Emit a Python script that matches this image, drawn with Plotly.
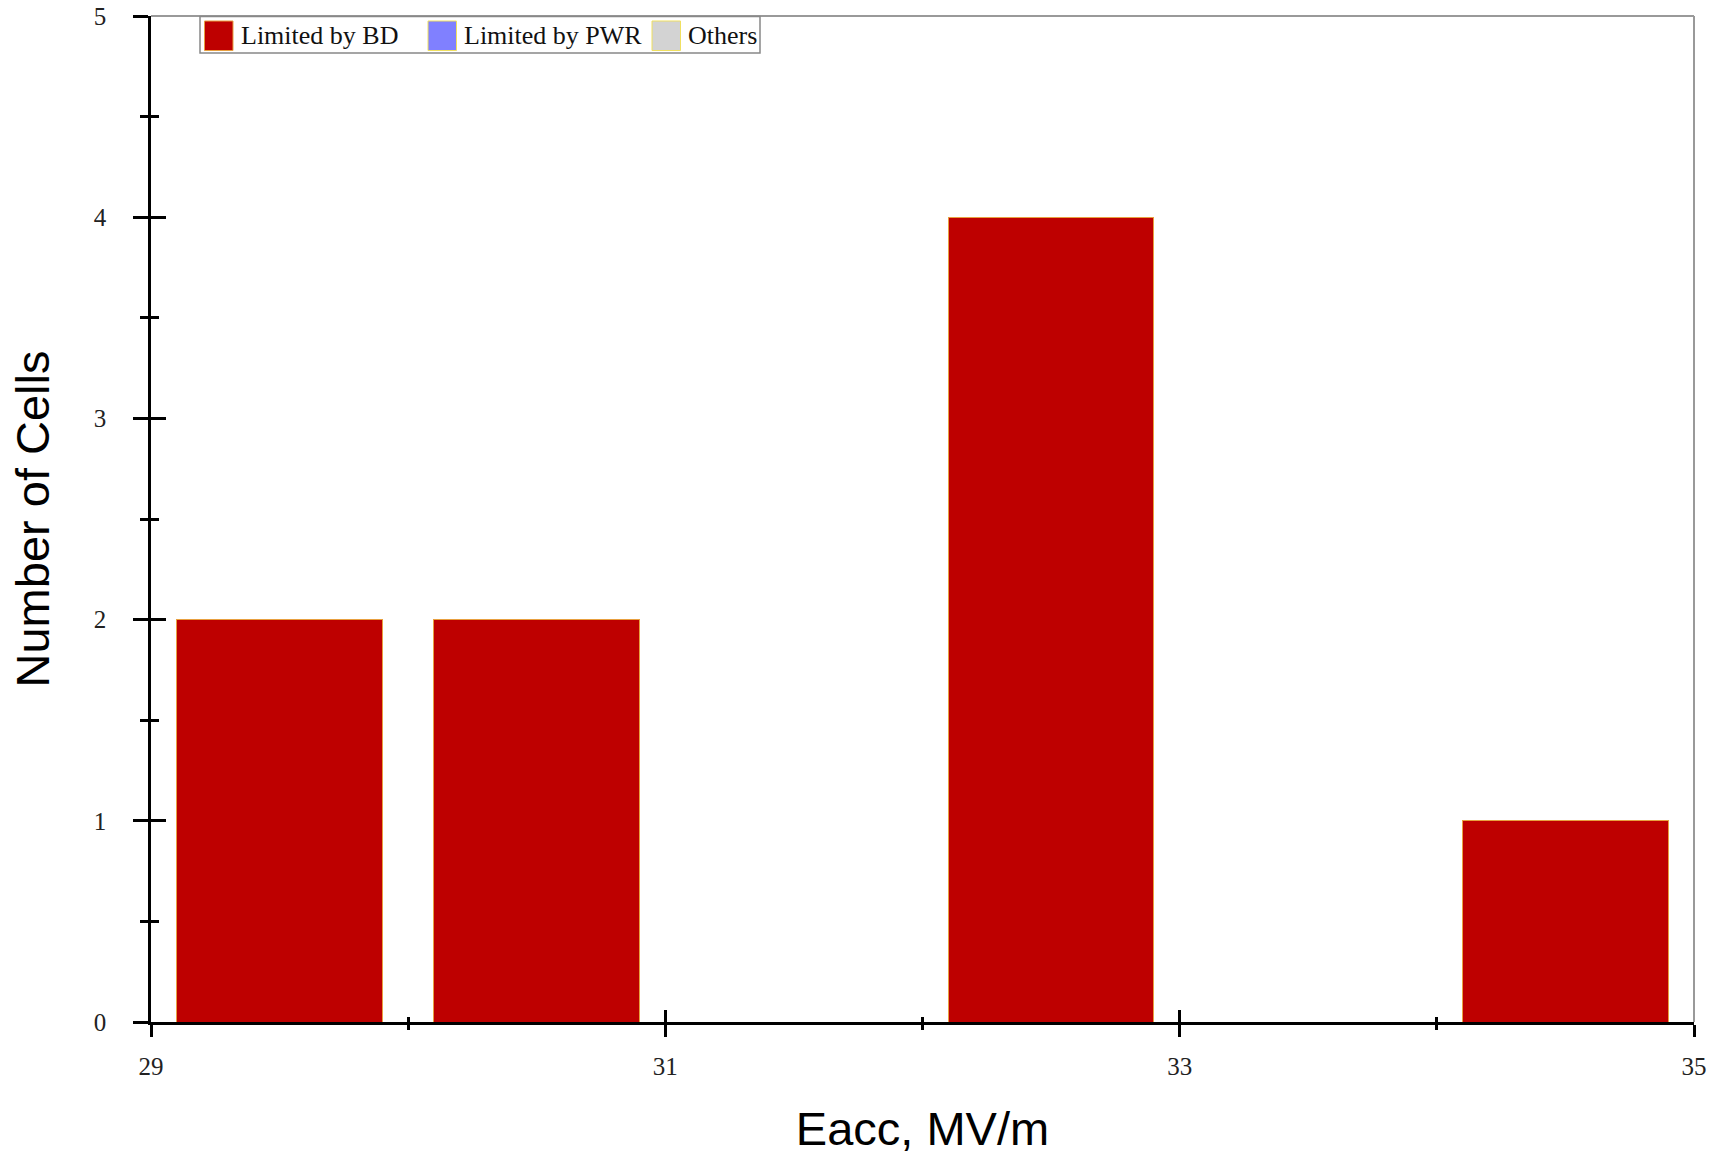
import plotly.graph_objects as go

# ---- data ----
eacc_bin_centers = [29.5, 30.5, 31.5, 32.5, 33.5, 34.5]
limited_by_bd = [2, 2, 0, 4, 0, 1]
limited_by_pwr = [0, 0, 0, 0, 0, 0]
others = [0, 0, 0, 0, 0, 0]
series_names = ["Limited by BD", "Limited by PWR", "Others"]
series_colors = ["#BE0000", "#8080FF", "#D3D3D3"]
x_tick_vals = [29, 31, 33, 35]
y_tick_vals = [0, 1, 2, 3, 4, 5]

W, H = 1724, 1155
L, R, T, B = 151, 30, 16, 133
PW, PH = W - L - R, H - T - B

def px_x(p):
    return (p - L) / PW

def px_y(p):
    return (H - B - p) / PH

fig = go.Figure()
series_axes = [("x", "y"), ("x", "y"), ("x2", "y2")]
for name, vals, col, (xa, ya) in zip(series_names, [limited_by_bd, limited_by_pwr, others],
                                      series_colors, series_axes):
    fig.add_trace(go.Bar(
        x=eacc_bin_centers, y=vals, name=name, xaxis=xa, yaxis=ya,
        marker=dict(color=col, line=dict(color="#E8A040", width=1)),
        showlegend=False,
    ))

serif = "Liberation Serif, Times New Roman, serif"
sans = "Liberation Sans, Arial, sans-serif"

fig.update_layout(
    width=W, height=H,
    margin=dict(l=L, r=R, t=T, b=B, autoexpand=False),
    paper_bgcolor="white", plot_bgcolor="white",
    barmode="stack", bargap=0.2,
    font=dict(family=serif, size=25, color="#222"),
    xaxis=dict(
        range=[29, 35], tickmode="array", tickvals=x_tick_vals,
        ticks="outside", ticklen=12, tickwidth=2.5, tickcolor="black",
        showline=True, linecolor="black", linewidth=2.5,
        showgrid=False, zeroline=False,
        minor=dict(dtick=1, tick0=29, ticks="outside", ticklen=5, tickwidth=2.5, tickcolor="black"),
        tickfont=dict(family=serif, size=25, color="#222"),
        ticklabelstandoff=8,
        title=dict(text="Eacc, MV/m", font=dict(family=sans, size=47, color="black"), standoff=35),
        automargin=False,
    ),
    yaxis=dict(
        range=[0, 5], tickmode="array", tickvals=y_tick_vals,
        ticks="outside", ticklen=15, tickwidth=2.5, tickcolor="black",
        showline=True, linecolor="black", linewidth=2.5,
        showgrid=False, zeroline=False,
        minor=dict(dtick=0.5, tick0=0, ticks="outside", ticklen=8, tickwidth=2.5, tickcolor="black"),
        tickfont=dict(family=serif, size=25, color="#222"),
        ticklabelstandoff=22,
        title=dict(text="Number of Cells", font=dict(family=sans, size=47, color="black"), standoff=30),
        automargin=False,
    ),
    xaxis2=dict(
        overlaying="x", anchor="y2", side="bottom", range=[29, 35],
        tickmode="array", tickvals=x_tick_vals,
        ticks="inside", ticklen=12, tickwidth=2.5, tickcolor="black",
        minor=dict(dtick=1, tick0=29, ticks="inside", ticklen=5, tickwidth=2.5, tickcolor="black"),
        showticklabels=False, showline=False, showgrid=False, zeroline=False,
    ),
    yaxis2=dict(
        overlaying="y", anchor="x2", side="left", range=[0, 5],
        tickmode="array", tickvals=y_tick_vals,
        ticks="inside", ticklen=15, tickwidth=2.5, tickcolor="black",
        minor=dict(dtick=0.5, tick0=0, ticks="inside", ticklen=8, tickwidth=2.5, tickcolor="black"),
        showticklabels=False, showline=False, showgrid=False, zeroline=False,
    ),
)

shapes = [
    # gray top and right frame
    dict(type="line", xref="paper", yref="paper", x0=0, x1=1, y0=1, y1=1,
         line=dict(color="#999", width=2), layer="below"),
    dict(type="line", xref="paper", yref="paper", x0=1, x1=1, y0=0, y1=1,
         line=dict(color="#999", width=2), layer="below"),
    # legend box
    dict(type="rect", xref="paper", yref="paper",
         x0=px_x(200), x1=px_x(760), y0=px_y(53), y1=px_y(16.5),
         line=dict(color="#888", width=1.5), fillcolor="white", layer="above"),
]
annotations = []
sq_lefts = [204.5, 428, 652]
text_lefts = [238.5, 462, 686]
border_cols = ["#E8A040", "#F0E060", "#F0E060"]
for name, col, sx, tx, bc in zip(series_names, series_colors, sq_lefts, text_lefts, border_cols):
    shapes.append(dict(type="rect", xref="paper", yref="paper",
                       x0=px_x(sx), x1=px_x(sx + 28.5), y0=px_y(50.5), y1=px_y(21),
                       fillcolor=col, line=dict(color=bc, width=1), layer="above"))
    annotations.append(dict(text=name, xref="paper", yref="paper",
                            x=px_x(tx), y=px_y(35.5), xanchor="left", yanchor="middle",
                            showarrow=False, font=dict(family=serif, size=26, color="#111")))

fig.update_layout(shapes=shapes, annotations=annotations)
fig.write_html("out.html")
